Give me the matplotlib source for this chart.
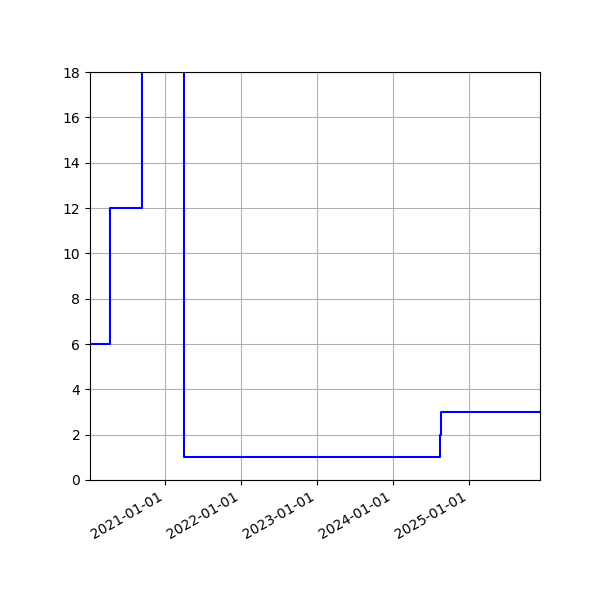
import matplotlib
matplotlib.use('Agg')
import matplotlib.pyplot as plt
import matplotlib.dates as mdates
import numpy as np

# step change dates and the value held from each date on
dates = np.array(['2020-01-05', '2020-04-09', '2020-09-13', '2021-04-02',
                  '2024-08-13', '2024-08-19', '2025-12-08'], dtype='datetime64[D]')
values = [6, 12, 24, 1, 2, 3, 3]

fig, ax = plt.subplots(figsize=(6, 6), dpi=100)
ax.plot(dates, values, color='blue', drawstyle='steps-post')
ax.set_ylim(0, 18)
ax.set_xlim(dates[0], dates[-1])
ax.xaxis.set_major_locator(mdates.YearLocator())
ax.xaxis.set_major_formatter(mdates.DateFormatter('%Y-%m-%d'))
ax.grid(True)
fig.autofmt_xdate()
fig.subplots_adjust(left=0.15, right=0.9, top=0.88, bottom=0.2)

fig.savefig('out.png')
